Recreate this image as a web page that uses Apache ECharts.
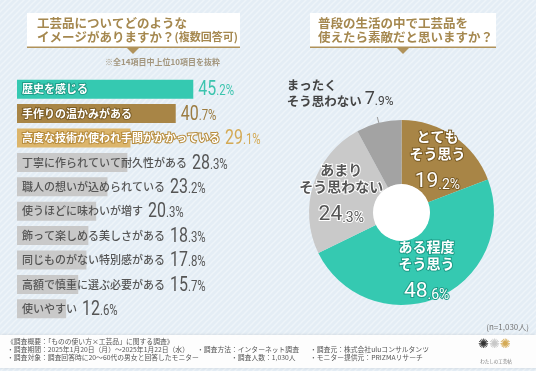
<!DOCTYPE html>
<html><head><meta charset="utf-8">
<script src="https://cdn.jsdelivr.net/npm/echarts@6/dist/echarts.min.js"></script>
<style>html,body{margin:0;padding:0;background:#e6eef5}#c{width:536px;height:371px;}</style>
</head><body><div id="c"></div>
<script>
const categories = ['歴史を感じる','手作りの温かみがある','高度な技術が使われ手間がかかっている','丁寧に作られていて耐久性がある','職人の想いが込められている','使うほどに味わいが増す','飾って楽しめる美しさがある','同じものがない特別感がある','高額で慎重に選ぶ必要がある','使いやすい'];
const barValues = [45.2,40.7,29.1,28.3,23.2,20.3,18.3,17.8,15.7,12.6];
const pieNames = ['とても\nそう思う','ある程度\nそう思う','あまり\nそう思わない','まったく\nそう思わない'];
const pieValues = [19.2,48.6,24.3,7.9];

const JP = '"Noto Sans CJK JP","Noto Sans CJK SC",sans-serif';
const NUM = 'Roboto,"Liberation Sans",sans-serif';
const TEAL='#35c9b1', BROWN='#a88546', GOLD='#dcb56b', LGRAY='#c9c9c9', DGRAY='#a3a3a3';
const barFill = [TEAL,BROWN,GOLD,LGRAY,LGRAY,LGRAY,LGRAY,LGRAY,LGRAY,LGRAY];
const nameStroke = ['#1f9d89','#7a5c26','#b78c3c',null,null,null,null,null,null,null];
const valColor = ['#3cc4ae','#9c7c40','#d4aa55','#555','#555','#555','#555','#555','#555','#555'];
const pieColors = [BROWN,TEAL,LGRAY,DGRAY];

function splitNum(v){ const s=v.toFixed(1).split('.'); return [s[0],'.'+s[1]]; }

const mc = document.createElement('canvas').getContext('2d');
function textW(font, t){ mc.font=font; return mc.measureText(t).width; }

// stripe pattern
const pc = document.createElement('canvas'); pc.width=6; pc.height=6;
const g = pc.getContext('2d');
g.fillStyle='#e4edf5'; g.fillRect(0,0,6,6);
g.strokeStyle='#eef4f9'; g.lineWidth=1.4; g.beginPath();
g.moveTo(0,6); g.lineTo(6,0); g.moveTo(-3,3); g.lineTo(3,-3); g.moveTo(3,9); g.lineTo(9,3); g.stroke();

const chart = echarts.init(document.getElementById('c'));
const NAME_FONT_B = 'bold 11px ' + JP;
const NAME_FONT = '500 11px ' + JP;

chart.setOption({
  animation:false,
  grid:{left:17, top:77, width:234, height:244},
  xAxis:{type:'value', min:0, max:60, show:false},
  yAxis:{type:'category', data:categories, inverse:true, show:false},
  graphic:[
    {type:'rect', z:-10, shape:{x:0,y:0,width:536,height:371}, style:{fill:{image:pc, repeat:'repeat'}}},
    // left title
    {type:'rect', shape:{x:27,y:13,width:213,height:34}, style:{fill:'#ffffff'}},
    {type:'rect', shape:{x:27,y:46.5,width:213,height:1.5}, style:{fill:'#b0925a'}},
    {type:'polygon', shape:{points:[[127,48],[139,48],[133,54]]}, style:{fill:'#b0925a'}},
    {type:'text', x:37, y:16, style:{text:'{a|工芸品についてどのような}\n{a|イメージがありますか？}{b|(複数回答可)}',
      rich:{a:{fontSize:12.5,fontWeight:'bold',fontFamily:JP,fill:'#a5884f',lineHeight:14},b:{fontSize:11,fontWeight:'bold',fontFamily:JP,fill:'#a5884f',lineHeight:14}}}},
    {type:'text', x:105, y:58, style:{text:'※全14項目中上位10項目を抜粋', fontSize:8, fontFamily:JP, fontWeight:'bold', fill:'#a3967e'}},
    // right title
    {type:'rect', shape:{x:310,y:13,width:186,height:34}, style:{fill:'#ffffff'}},
    {type:'rect', shape:{x:310,y:46.5,width:186,height:1.5}, style:{fill:'#b0925a'}},
    {type:'polygon', shape:{points:[[397,48],[409,48],[403,54]]}, style:{fill:'#b0925a'}},
    {type:'text', x:318, y:16, style:{text:'普段の生活の中で工芸品を\n使えたら素敵だと思いますか？',
      fontSize:12.5, fontWeight:'bold', fontFamily:JP, fill:'#a5884f', lineHeight:14}},
    // n label
    {type:'text', x:529, y:327, style:{text:'(n=1,030人)', fontSize:8, fontFamily:JP, fill:'#777', align:'right', verticalAlign:'middle'}},
    // footer
    {type:'rect', shape:{x:0,y:335,width:536,height:33}, style:{fill:'#fdfdfd', shadowBlur:3, shadowColor:'rgba(0,0,0,0.12)'}},
    {type:'text', x:7, y:337, style:{text:'《調査概要：「ものの使い方×工芸品」に関する調査》\n・調査期間：2025年1月20日（月）～2025年1月22日（水）\n・調査対象：調査回答時に20～60代の男女と回答したモニター',
      fontSize:6.8, fontFamily:JP, fill:'#555', lineHeight:8}},
    {type:'text', x:197, y:345, style:{text:'・調査方法：インターネット調査', fontSize:6.8, fontFamily:JP, fill:'#555', lineHeight:8}},
    {type:'text', x:231, y:353, style:{text:'・調査人数：1,030人', fontSize:6.8, fontFamily:JP, fill:'#555', lineHeight:8}},
    {type:'text', x:310, y:345, style:{text:'・調査元：株式会社uluコンサルタンツ\n・モニター提供元：PRIZMAリサーチ', fontSize:6.8, fontFamily:JP, fill:'#555', lineHeight:8}},
    {type:'text', x:478, y:338, style:{text:'{a|✺}{b|✺}{c|✺}', rich:{a:{fontSize:13,fill:'#333',fontFamily:'DejaVu Sans'},b:{fontSize:13,fill:'#c8c8c8',fontFamily:'DejaVu Sans'},c:{fontSize:13,fill:'#d4aa55',fontFamily:'DejaVu Sans'}}}},
    {type:'text', x:496, y:361, style:{text:'わたしの工芸帖', fontSize:4.5, fontFamily:JP, fill:'#777', align:'center', verticalAlign:'middle'}}
  ],
  series:[
    {
      type:'custom',
      data: barValues.map((v,i)=>[v,i]),
      encode:{x:0,y:1},
      renderItem:function(params, api){
        const i = params.dataIndex;
        const v = api.value(0);
        const p0 = api.coord([0,i]);
        const p1 = api.coord([v,i]);
        const h = api.size([0,1])[1]*0.78;
        const font = i<3 ? NAME_FONT_B : NAME_FONT;
        const nx = p0[0]+5;
        const nw = textW(font, categories[i]);
        const vx = Math.max(p1[0], nx+nw) + 5;
        const parts = splitNum(v);
        const nameStyle = {text:categories[i], x:nx, y:p0[1], font:font, fill: i<3 ? '#ffffff' : '#555555',
           verticalAlign:'middle', textVerticalAlign:'middle'};
        if (nameStroke[i]) { nameStyle.stroke = nameStroke[i]; nameStyle.lineWidth = 2; }
        return {type:'group', children:[
          {type:'rect', shape:{x:p0[0], y:p0[1]-h/2, width:p1[0]-p0[0], height:h}, style:{fill:barFill[i]}},
          {type:'text', style:nameStyle},
          {type:'text', x:vx, y:p0[1]+1, scaleX:0.76, originX:0, originY:0,
            style:{x:0, y:0, text:'{i|'+parts[0]+'}{d|'+parts[1]+'%}', verticalAlign:'middle', textVerticalAlign:'middle',
            rich:{i:{fontSize:21, fontFamily:NUM, fill:valColor[i]}, d:{fontSize:15, fontFamily:NUM, fill:valColor[i], padding:[3,0,0,0]}}}}
        ]};
      }
    },
    {
      type:'pie', center:[401.5,212.5], radius:[28,92.5], startAngle:90, clockwise:true,
      avoidLabelOverlap:false,
      data: pieValues.map((v,i)=>{
        const lines = pieNames[i].split('\n');
        const parts = splitNum(v);
        const inside = i<3;
        const nc = i===2 ? '#555' : '#fff';
        const sc = i===0 ? '#7a5c26' : (i===1 ? '#1f9d89' : '#ffffff');
        const item = {name:pieNames[i], value:v, itemStyle:{color:pieColors[i]}};
        if (inside) {
          item.label = {position:'inside', formatter: lines.map(l=>'{n|'+l+'}').join('\n') + '\n{i|'+parts[0]+'}{d|'+parts[1]+'%}',
            rich:{
              n:{fontSize:14, fontWeight:'bold', fontFamily:JP, color:nc, textBorderColor:sc, textBorderWidth:2, lineHeight:17},
              i:{fontSize:21, fontFamily:NUM, color:nc, textBorderColor:sc, textBorderWidth:2, lineHeight:30, verticalAlign:'bottom'},
              d:{fontSize:14, fontFamily:NUM, color:nc, textBorderColor:sc, textBorderWidth:2, lineHeight:30, verticalAlign:'bottom'}
            }};
          item.labelLine = {show:false};
        } else {
          item.label = {position:'outside', formatter: '{n|'+lines[0]+'}\n{n|'+lines[1]+' }{i|'+parts[0]+'}{d|'+parts[1]+'%}',
            rich:{
              n:{fontSize:12.5, fontWeight:'bold', fontFamily:JP, color:'#444', lineHeight:16, verticalAlign:'bottom'},
              i:{fontSize:18, fontFamily:NUM, color:'#444', lineHeight:16, verticalAlign:'bottom'},
              d:{fontSize:12, fontFamily:NUM, color:'#444', lineHeight:16, verticalAlign:'bottom'}
            }};
          item.labelLine = {show:true, showAbove:true, length:6, length2:0, lineStyle:{color:'#999', width:1}};
        }
        return item;
      }),
      labelLayout:function(params){
        if (params.dataIndex!==3) return {};
        const r = params.rect;
        const lr = params.labelRect;
        const out = {x: r.x + r.width - 8 - lr.width, y: r.y - 12, align:'left', verticalAlign:'bottom'};
        if (params.labelLinePoints) out.labelLinePoints = params.labelLinePoints.slice(0,2);
        return out;
      }
    },
    {
      type:'pie', silent:true, center:[401.5,212.5], radius:[0,28.5], z:3,
      data:[{value:1, itemStyle:{color:'#ffffff'}}], label:{show:false}, labelLine:{show:false}
    }
  ]
});
</script>
</body></html>
